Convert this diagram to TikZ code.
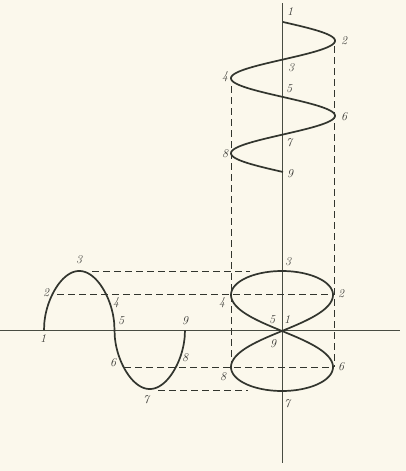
\documentclass[tikz,border=0pt]{standalone}
\usepackage{xcolor}
\definecolor{bg}{RGB}{251,248,236}
\definecolor{ink}{RGB}{50,53,46}
\definecolor{axisc}{RGB}{72,76,66}
\definecolor{lab}{RGB}{58,58,54}
\begin{document}
\begin{tikzpicture}[x=1pt,y=-1pt,
  curve/.style={ink,line width=1.7pt,line join=round},
  axisline/.style={axisc,line width=0.9pt},
  proj/.style={ink,line width=0.9pt,dash pattern=on 7pt off 4pt},
  lbl/.style={lab,font=\fontsize{12}{13}\selectfont\itshape,inner sep=0pt}]
\fill[bg] (0,0) rectangle (406,471);
\useasboundingbox (0,0) rectangle (406,471);

% axes
\coordinate (vt) at (282,3);
\coordinate (vb) at (282,463);
\coordinate (hl) at (0,330);
\coordinate (hr) at (400,330);
\draw[axisline] (vt) -- (vb);
\draw[axisline] (hl) -- (hr);

% projection lines
\coordinate (d3a) at (92,271);  \coordinate (d3b) at (250,271);
\coordinate (d2a) at (57,294);  \coordinate (d2b) at (334,294);
\coordinate (d6a) at (124,367); \coordinate (d6b) at (333,367);
\coordinate (d7a) at (158,390); \coordinate (d7b) at (248,390);
\coordinate (vla) at (231,86);  \coordinate (vlb) at (231,367);
\coordinate (vra) at (334,46);  \coordinate (vrb) at (334,367);
\draw[proj] (d3a) -- (d3b);
\draw[proj] (d2a) -- (d2b);
\draw[proj] (d6a) -- (d6b);
\draw[proj] (d7a) -- (d7b);
\draw[proj] (vla) -- (vlb);
\draw[proj] (vra) -- (vrb);

% helix (top)
\draw[curve] plot[domain=0:720,samples=200] ({283+52*sin(\x)},{22+\x/4.8});

% wave (left)
\draw[curve] plot[domain=0:180,samples=200] ({44+\x/360*141},{330-59*sqrt(abs(sin(\x)))})
  -- plot[domain=180:360,samples=200] ({44+\x/360*141},{330+59*sqrt(abs(sin(\x)))});

% figure eight
\draw[curve] plot[domain=0:360,samples=240]
  ({282+51*sin(2*\x)},{331-60*sin(\x)*(1-0.3*cos(\x)*cos(\x))}) -- cycle;

% helix labels
\node[lbl] (h1) at (290,12) {1};
\node[lbl] (h2) at (344,41) {2};
\node[lbl] (h3) at (291,68) {3};
\node[lbl] (h4) at (225,77) {4};
\node[lbl] (h5) at (289,89) {5};
\node[lbl] (h6) at (344,117) {6};
\node[lbl] (h7) at (289,143) {7};
\node[lbl] (h8) at (225,154) {8};
\node[lbl] (h9) at (290,174) {9};

% wave labels
\node[lbl] (w1) at (43,339) {1};
\node[lbl] (w2) at (46,293) {2};
\node[lbl] (w3) at (79,260) {3};
\node[lbl] (w4) at (116,303) {4};
\node[lbl] (w5) at (121,321) {5};
\node[lbl] (w6) at (113,363) {6};
\node[lbl] (w7) at (146,400) {7};
\node[lbl] (w8) at (185,358) {8};
\node[lbl] (w9) at (185,321) {9};

% figure-eight labels
\node[lbl] (e1) at (287,320) {1};
\node[lbl] (e2) at (341,294) {2};
\node[lbl] (e3) at (288,262) {3};
\node[lbl] (e4) at (222,303) {4};
\node[lbl] (e5) at (272,320) {5};
\node[lbl] (e6) at (341,367) {6};
\node[lbl] (e7) at (287,404) {7};
\node[lbl] (e8) at (223,377) {8};
\node[lbl] (e9) at (273,344) {9};
\end{tikzpicture}
\end{document}
